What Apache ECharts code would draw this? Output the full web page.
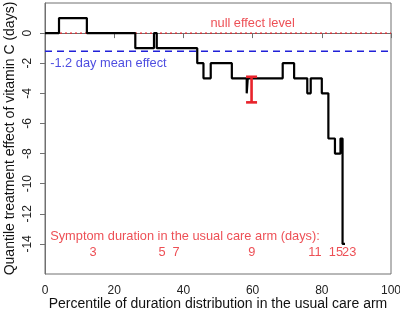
<!DOCTYPE html>
<html>
<head>
<meta charset="utf-8">
<script src="https://cdn.jsdelivr.net/npm/echarts@6/dist/echarts.min.js"></script>
<style>
  html, body { margin: 0; padding: 0; background: #fff; }
  #chart { width: 400px; height: 318px; }
</style>
</head>
<body>
<div id="chart"></div>
<script>
// step curve: percentile where the quantile effect changes, and the new effect (days)
var stepPct = [0, 4.05, 12.1, 26.1, 31.5, 32.3, 44.0, 45.8, 47.9, 54.0, 58.3, 58.6, 68.7, 72.0, 75.8, 76.8, 80.0, 81.9, 83.8, 85.4, 86.0, 86.7];
var stepEffect = [0, 1, 0, -1, 0, -1, -2, -3, -2, -3, -4, -3, -2, -3, -4, -3, -4, -7, -8, -7, -14, -14];

// confidence interval shown near the 60th percentile
var ciPct = [59.7];
var ciLow = [-4.6];
var ciHigh = [-2.9];

var nullEffect = 0;
var meanEffect = -1.2;

// symptom durations (days) in the usual care arm and their percentiles
var durationDays = ['3', '5', '7', '9', '11', '15', '23'];
var durationPct = [13.9, 33.8, 37.9, 59.8, 78.0, 84.1, 87.9];

var xTicks = [0, 20, 40, 60, 80, 100];
var yTicks = [-14, -12, -10, -8, -6, -4, -2, 0];

var RED = '#e8232b';
var BLUE = '#2020d8';
var FONT = 'Liberation Sans, Arial, sans-serif';

var chart = echarts.init(document.getElementById('chart'));

function textPoint(x, y, txt, align, color) {
    return {
        value: [x, y],
        label: {
            show: true,
            position: 'inside',
            align: align,
            verticalAlign: 'middle',
            formatter: txt,
            color: color,
            fontSize: 12.8,
            fontFamily: FONT
        }
    };
}

var option = {
    animation: false,
    backgroundColor: '#fff',
    grid: {
        left: 45, right: 9, top: 3, bottom: 44,
        outerBoundsMode: 'none',
        show: true,
        borderColor: '#707070',
        borderWidth: 1
    },
    xAxis: {
        type: 'value',
        min: 0, max: 100, interval: 20,
        name: 'Percentile of duration distribution in the usual care arm',
        nameLocation: 'middle',
        nameGap: 23.5,
        nameMoveOverlap: false,
        nameTextStyle: { fontSize: 14, color: '#111', fontFamily: FONT },
        axisLine: { show: true, lineStyle: { color: '#707070' } },
        axisTick: { show: true, length: 5, lineStyle: { color: '#707070' } },
        axisLabel: { fontSize: 12, color: '#222', margin: 10.5, fontFamily: FONT, customValues: xTicks },
        splitLine: { show: false }
    },
    yAxis: {
        type: 'value',
        min: -16, max: 2, interval: 2,
        name: 'Quantile treatment effect of vitamin C (days)',
        nameLocation: 'middle',
        nameGap: 28,
        nameMoveOverlap: false,
        nameRotate: 90,
        nameTextStyle: { fontSize: 14, color: '#111', fontFamily: FONT },
        axisLine: { show: true, lineStyle: { color: '#707070' } },
        axisTick: { show: true, length: 5, lineStyle: { color: '#707070' }, customValues: yTicks },
        axisLabel: { fontSize: 12, color: '#222', margin: 11, rotate: 90, fontFamily: FONT, customValues: yTicks },
        splitLine: { show: false }
    },
    series: [
        {
            type: 'line',
            data: [[0, nullEffect], [100, nullEffect]],
            showSymbol: false,
            lineStyle: { color: RED, width: 1.2, type: [2, 3] },
            z: 1
        },
        {
            type: 'line',
            data: [[0, meanEffect], [100, meanEffect]],
            showSymbol: false,
            lineStyle: { color: BLUE, width: 1.4, type: [7, 5] },
            z: 1
        },
        {
            type: 'line',
            step: 'end',
            data: stepPct.map(function (p, i) { return [p, stepEffect[i]]; }),
            showSymbol: false,
            lineStyle: { color: '#000', width: 2.2 },
            z: 3
        },
        {
            type: 'custom',
            data: ciPct.map(function (p, i) { return [p, ciLow[i], ciHigh[i]]; }),
            renderItem: function (params, api) {
                var lo = api.coord([api.value(0), api.value(1)]);
                var hi = api.coord([api.value(0), api.value(2)]);
                var w = 5.5;
                var st = { stroke: RED, lineWidth: 2.6 };
                return {
                    type: 'group',
                    children: [
                        { type: 'line', shape: { x1: lo[0], y1: lo[1], x2: hi[0], y2: hi[1] }, style: st },
                        { type: 'line', shape: { x1: lo[0] - w, y1: lo[1], x2: lo[0] + w, y2: lo[1] }, style: st },
                        { type: 'line', shape: { x1: hi[0] - w, y1: hi[1], x2: hi[0] + w, y2: hi[1] }, style: st }
                    ]
                };
            },
            z: 4
        },
        {
            type: 'scatter',
            symbolSize: 0,
            silent: true,
            data: [
                textPoint(60, 0.65, 'null effect level', 'center', RED),
                textPoint(1.5, -2.0, '-1.2 day mean effect', 'left', BLUE),
                textPoint(1.5, -13.5, 'Symptom duration in the usual care arm (days):', 'left', RED)
            ].concat(durationDays.map(function (d, i) {
                return textPoint(durationPct[i], -14.55, d, 'center', RED);
            })),
            z: 5
        }
    ]
};

chart.setOption(option);
window.addEventListener('resize', function () {
    chart.resize();
});
</script>
</body>
</html>
